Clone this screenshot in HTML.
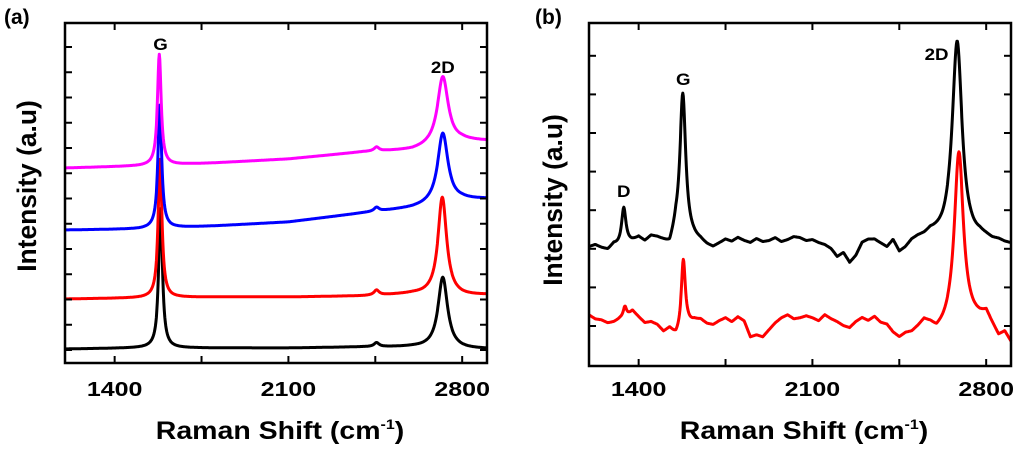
<!DOCTYPE html>
<html><head><meta charset="utf-8">
<style>
html,body{margin:0;padding:0;background:#fff;}
svg{display:block;font-family:"Liberation Sans",Arial,sans-serif;font-weight:bold;}
</style></head>
<body>
<svg id="fig" width="1024" height="460" viewBox="0 0 1024 460"></svg>
<script>
// ---------- data ----------
const xTicks = [1400, 2100, 2800];
const xMinorTicks = [1750, 2450];
// Panel (a): baseline knots (x positions) and values per series
const aKnotX = [1200, 1500, 1800, 2100, 2400, 2600, 2800, 2900];
const aBlackBase = [14, 15, 15, 15, 16, 16, 14, 14];
const aRedBase = [64, 65, 66, 66, 67, 69, 67, 68];
const aBlueBase = [133, 134, 137, 141, 150, 155, 163, 164];
const aMagentaBase = [195, 197, 200, 204, 211, 213, 222, 222];
// peaks [position, amplitude, half-width]
const aBlackPeaks = [[1585, 141, 9], [2722, 71, 23], [2455, 4, 12]];
const aRedPeaks = [[1583, 140, 9], [2720, 98, 21], [2455, 5, 12]];
const aBluePeaks = [[1582, 123, 9], [2722, 70, 25], [2455, 4, 12]];
const aMagentaPeaks = [[1580, 111, 9], [2722, 68, 26], [2455, 4, 12]];
// Panel (b): noisy baselines sampled every 25 cm-1 from 1200 to 2900
const bKnotStart = 1200, bKnotStep = 25;
const bBlackBase = [119,121,118,116,121,119,121,124,128,124,129,127,123,118,133,130,128,126,124,120,118,122,126,124,128,125,123,127,124,125,128,124,126,129,128,125,126,123,121,117,109,113,103,110,123,126,126,122,118,125,113,117,124,127,128,131,129,127,127,126,126,125,125,127,126,124,124,122,121];
const bRedBase = [51,47,46,43,44,47,48,55,49,43,44,41,34,37,29,32,40,45,46,42,41,45,48,44,49,45,29,31,29,36,43,48,51,47,48,50,48,45,51,47,44,40,38,44,48,45,49,43,41,33,28,32,33,38,44,40,33,35,38,40,42,44,45,47,51,40,29,33,23];
const bBlackPeaks = [[1340, 38, 11], [1578, 143, 14], [2683, 199, 24]];
const bRedPeaks = [[1345, 12, 9], [1580, 73, 10], [2690, 173, 22]];

// ---------- helpers ----------
const NS = "http://www.w3.org/2000/svg";
const svg = document.getElementById("fig");
function mk(tag, attrs, parent) {
  const e = document.createElementNS(NS, tag);
  for (const k in attrs) e.setAttribute(k, attrs[k]);
  (parent || svg).appendChild(e);
  return e;
}
function interp(xs, ys, x) {
  if (x <= xs[0]) return ys[0];
  for (let i = 1; i < xs.length; i++) {
    if (x <= xs[i]) { const t = (x - xs[i-1]) / (xs[i] - xs[i-1]); return ys[i-1] + t * (ys[i] - ys[i-1]); }
  }
  return ys[ys.length - 1];
}
function lor(x, peaks) {
  let s = 0;
  for (const p of peaks) { const d = (x - p[0]) / p[2]; s += p[1] / (1 + d * d); }
  return s;
}
function makePanel(P) {
  const g = mk("g", {});
  
  
  const sx = v => P.x0 + (v - 1200) / 1700 * (P.x1 - P.x0);
  const sy = v => P.y1 - v / P.ymax * (P.y1 - P.y0);
  P.series.forEach(s => {
    let d = "";
    const kx = s.knotX || s.base.map((_, i) => bKnotStart + i * bKnotStep);
    for (let x = 1200; x <= 2900; x += 2) {
      const v = interp(kx, s.base, x) + lor(x, s.peaks);
      d += (d ? "L" : "M") + sx(x).toFixed(1) + "," + sy(v).toFixed(1);
    }
    const p = mk("path", {d: d, fill: "none", stroke: s.color, "stroke-width": 3, "stroke-linejoin": "round"}, g);
    
    
  });
  const fr = mk("rect", {x: P.x0, y: P.y0, width: P.x1 - P.x0, height: P.y1 - P.y0, fill: "none", stroke: "#000", "stroke-width": 2.5}, g);
  
  
  xTicks.concat(xMinorTicks).forEach(t => {
    const X = sx(t);
    mk("line", {x1: X, x2: X, y1: P.y1, y2: P.y1 - 7, stroke: "#000", "stroke-width": 2}, g);
    mk("line", {x1: X, x2: X, y1: P.y0, y2: P.y0 + 7, stroke: "#000", "stroke-width": 2}, g);
  });
  xTicks.forEach(t => {
    const tx = mk("text", {x: 0, y: 0, "text-anchor": "middle", "font-size": 20, transform: `translate(${sx(t)},396) scale(1.25,1)`}, g);
    tx.textContent = t;
    
    
  });
  for (let v = P.yTick0; v < P.ymax; v += P.yStep) {
    const Y = sy(v);
    mk("line", {x1: P.x0, x2: P.x0 + 7, y1: Y, y2: Y, stroke: "#000", "stroke-width": 2}, g);
    mk("line", {x1: P.x1, x2: P.x1 - 7, y1: Y, y2: Y, stroke: "#000", "stroke-width": 2}, g);
  }
  const xt = mk("text", {x: 0, y: 0, "text-anchor": "middle", "font-size": 25, transform: `translate(${(P.x0 + P.x1) / 2 + 4},439) scale(1.14,1)`}, g);
  xt.innerHTML = 'Raman Shift (cm<tspan dy="-10" font-size="14">-1</tspan><tspan dy="10">)</tspan>';
  
  
  const yt = mk("text", {x: 0, y: 0, "text-anchor": "middle", "font-size": 24, transform: `translate(${P.yTitleX},${P.yTitleY}) rotate(-90) scale(1.1,1.1)`}, g);
  yt.textContent = "Intensity (a.u)";
  
  
  const pl = mk("text", {x: P.labelX, y: 24, "font-size": 21}, g);
  pl.textContent = P.label;
  
  
  P.peakLabels.forEach(l => {
    const t = mk("text", {x: 0, y: 0, "text-anchor": "middle", "font-size": 17, transform: `translate(${sx(l[1])},${l[2]}) scale(1.1,1)`}, g);
    t.textContent = l[0];
    
    
  });
}
makePanel({
  name: "panel-a", label: "(a)", labelX: 4, x0: 65, x1: 487, y0: 23, y1: 363, ymax: 340,
  yTick0: 13, yStep: 25.25, yTitleX: 36, yTitleY: 186,
  series: [
    {name: "series-black", color: "#000", knotX: aKnotX, base: aBlackBase, peaks: aBlackPeaks},
    {name: "series-red", color: "#ff0000", knotX: aKnotX, base: aRedBase, peaks: aRedPeaks},
    {name: "series-blue", color: "#0000ff", knotX: aKnotX, base: aBlueBase, peaks: aBluePeaks},
    {name: "series-magenta", color: "#ff00ff", knotX: aKnotX, base: aMagentaBase, peaks: aMagentaPeaks}
  ],
  peakLabels: [["G", 1585, 50], ["2D", 2722, 73]]
});
makePanel({
  name: "panel-b", label: "(b)", labelX: 535, x0: 589, x1: 1011, y0: 23, y1: 366, ymax: 343,
  yTick0: 40, yStep: 38.6, yTitleX: 562, yTitleY: 200,
  series: [
    {name: "series-red", color: "#ff0000", base: bRedBase, peaks: bRedPeaks},
    {name: "series-black", color: "#000", base: bBlackBase, peaks: bBlackPeaks}
  ],
  peakLabels: [["D", 1340, 197], ["G", 1580, 85], ["2D", 2600, 60]]
});
</script>
</body></html>
